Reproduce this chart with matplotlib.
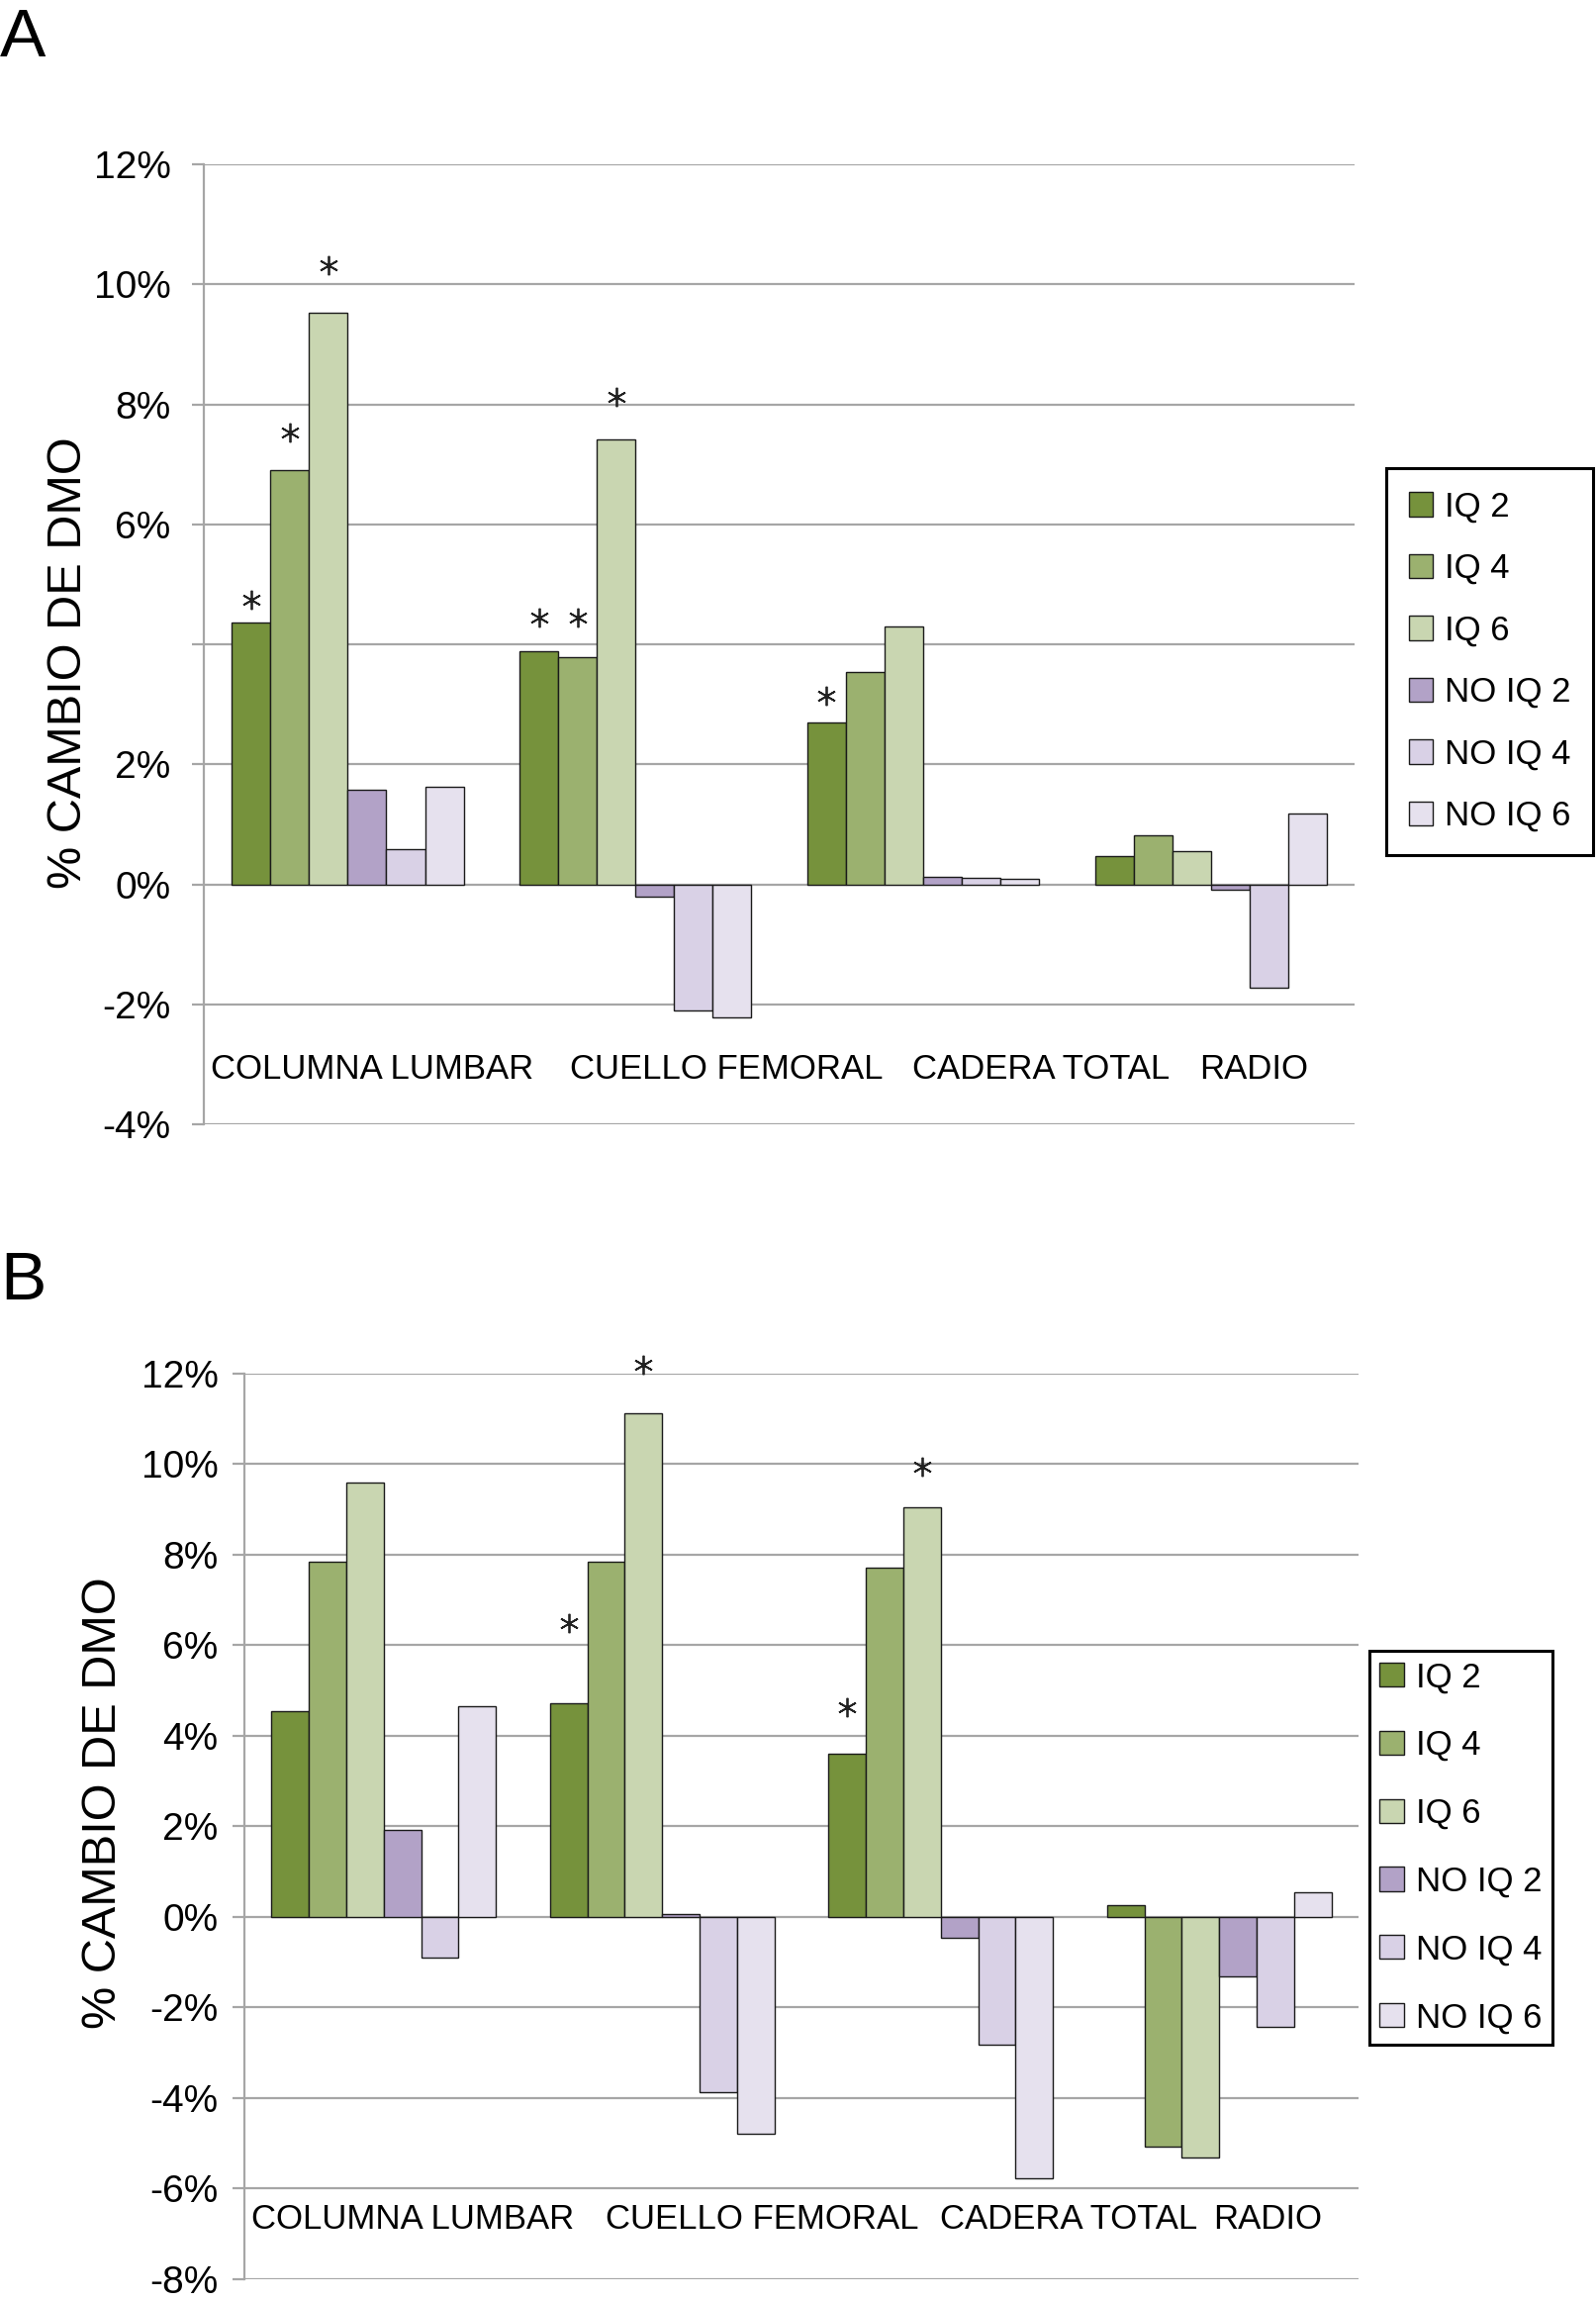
import matplotlib.pyplot as plt
from matplotlib.patches import Patch
from matplotlib.transforms import blended_transform_factory

plt.rcParams['font.family'] = ['Liberation Sans', 'DejaVu Sans']

categories = ['COLUMNA LUMBAR', 'CUELLO FEMORAL', 'CADERA TOTAL', 'RADIO']
series = ['IQ 2', 'IQ 4', 'IQ 6', 'NO IQ 2', 'NO IQ 4', 'NO IQ 6']
colors = ['#76923c', '#9bb16f', '#c9d6b1', '#b2a2c7', '#d9d1e6', '#e6e1ee']

# panel A, % change per series, one value per category
a_iq2 = [4.37, 3.89, 2.69, 0.47]
a_iq4 = [6.90, 3.79, 3.54, 0.81]
a_iq6 = [9.53, 7.41, 4.30, 0.56]
a_no2 = [1.58, -0.20, 0.13, -0.09]
a_no4 = [0.59, -2.11, 0.10, -1.72]
a_no6 = [1.63, -2.22, 0.09, 1.18]

# panel B
b_iq2 = [4.55, 4.72, 3.61, 0.25]
b_iq4 = [7.84, 7.84, 7.72, -5.07]
b_iq6 = [9.60, 11.13, 9.04, -5.31]
b_no2 = [1.91, 0.06, -0.46, -1.31]
b_no4 = [-0.91, -3.87, -2.83, -2.42]
b_no6 = [4.66, -4.79, -5.78, 0.54]

# significance marks: (series index, category index, height)
a_stars = [(0, 0, 4.75), (1, 0, 7.53), (2, 0, 10.32),
           (0, 1, 4.44), (1, 1, 4.44), (2, 1, 8.13),
           (0, 2, 3.14)]
b_stars = [(0, 1, 6.49), (2, 1, 12.19), (0, 2, 4.63), (2, 2, 9.95)]

a_yticks = [-4, -2, 0, 2, 4, 6, 8, 10, 12]
a_ylabels = ['-4%', '-2%', '0%', '2%', '', '6%', '8%', '10%', '12%']
b_yticks = [-8, -6, -4, -2, 0, 2, 4, 6, 8, 10, 12]
b_ylabels = ['%d%%' % t for t in b_yticks]

grid_c = '#a6a6a6'
bw = 0.806 / 6

fig = plt.figure(figsize=(16.13, 23.26), dpi=100)


def panel(rect, data, stars, yticks, ylabels, lab_x, lab_y, tickpad):
    ax = fig.add_axes(rect)
    ax.set_xlim(-0.5, 3.5)
    ax.set_ylim(yticks[0], yticks[-1])
    for t in yticks:
        ax.axhline(t, color=grid_c, lw=1.6, zorder=1)
    for i, vals in enumerate(data):
        xs = [c + (i - 2.5) * bw for c in range(len(categories))]
        ax.bar(xs, vals, width=bw, color=colors[i], edgecolor='#1a1a1a',
               linewidth=1.0, zorder=3)
    for s, c, y in stars:
        ax.plot(c + (s - 2.5) * bw, y, marker=(6, 2, 0), ms=14, mew=1.3,
                color='#222222', linestyle='none', zorder=4, clip_on=False)
    ax.set_yticks(yticks)
    ax.set_yticklabels(ylabels, fontsize=28)
    ax.tick_params(axis='y', length=9, width=1.6, color=grid_c, pad=tickpad)
    ax.set_xticks([])
    for sp in ['top', 'right', 'bottom']:
        ax.spines[sp].set_visible(False)
    ax.spines['left'].set_color(grid_c)
    ax.spines['left'].set_linewidth(1.6)
    tr = blended_transform_factory(ax.transAxes, ax.transData)
    for name, x in zip(categories, lab_x):
        ax.text(x, lab_y, name, transform=tr, fontsize=25, ha='left', va='center')
    return ax


ax_a = panel([0.1277, 0.5116, 0.7213, 0.4170],
             [a_iq2, a_iq4, a_iq6, a_no2, a_no4, a_no6], a_stars,
             a_yticks, a_ylabels, [0.006, 0.318, 0.615, 0.865], -3.08, 15)
ax_b = panel([0.1531, 0.0100, 0.6981, 0.3933],
             [b_iq2, b_iq4, b_iq6, b_no2, b_no4, b_no6], b_stars,
             b_yticks, b_ylabels, [0.006, 0.324, 0.624, 0.870], -6.69, 10)

fig.text(0.043, 0.712, '% CAMBIO DE DMO', rotation=90, fontsize=35,
         ha='center', va='center')
fig.text(0.065, 0.217, '% CAMBIO DE DMO', rotation=90, fontsize=35,
         ha='center', va='center')
fig.text(0.0, 0.997, 'A', fontsize=50, ha='left', va='top')
fig.text(0.0, 0.457, 'B', fontsize=50, ha='left', va='top')

handles = [Patch(facecolor=c, edgecolor='#1a1a1a', linewidth=1.0) for c in colors]
for anchor, ls, bp in [((1401 / 1613, 1 - 473 / 2326), 0.85, 0.65),
                       ((1384 / 1613, 1 - 1668 / 2326), 1.03, 0.3)]:
    leg = fig.legend(handles, series, loc='upper left', bbox_to_anchor=anchor,
                     fontsize=25, frameon=True, fancybox=False, framealpha=1,
                     edgecolor='black', handlelength=0.7, handleheight=0.7,
                     handletextpad=0.35, labelspacing=ls, borderpad=bp,
                     borderaxespad=0)
    leg.get_frame().set_linewidth(2.2)

fig.savefig('out.png', dpi=100)
